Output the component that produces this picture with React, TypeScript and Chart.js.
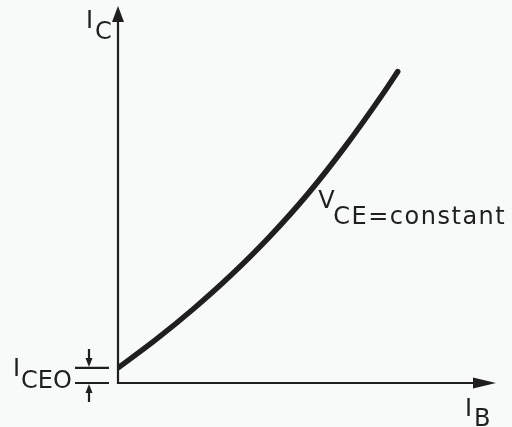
import React, { useEffect, useRef } from "react";
import { Chart, registerables } from "chart.js";

Chart.register(...registerables);

// Transfer characteristic I_C = f(I_B) at constant V_CE (arbitrary units)
const baseCurrent: number[] = [0, 1, 2, 3, 4, 5, 6, 7, 7.4];
const collectorCurrent: number[] = [0.4, 1.15, 1.97, 2.87, 3.87, 4.99, 6.26, 7.66, 8.26];
// Leakage current with open base: where the curve meets the I_C axis
const ICEO = 0.4;
const axisMax = 10;

const INK = "#1f1f1f";
const PAPER = "#f8f9f9";
const FONT = '24px "DejaVu Sans", sans-serif';

function arrowHead(
  ctx: CanvasRenderingContext2D,
  tipX: number,
  tipY: number,
  dirX: number,
  dirY: number,
  length: number,
  halfWidth: number
) {
  const bx = tipX - dirX * length;
  const by = tipY - dirY * length;
  const px = -dirY;
  const py = dirX;
  ctx.beginPath();
  ctx.moveTo(tipX, tipY);
  ctx.lineTo(bx + px * halfWidth, by + py * halfWidth);
  ctx.lineTo(bx - px * halfWidth, by - py * halfWidth);
  ctx.closePath();
  ctx.fill();
}

function subscripted(
  ctx: CanvasRenderingContext2D,
  main: string,
  sub: string,
  x: number,
  y: number,
  dx: number,
  dy: number
) {
  ctx.fillText(main, x, y);
  ctx.fillText(sub, x + dx, y + dy);
}

const axesPlugin = {
  id: "transferAxes",
  beforeDatasetsDraw(chart: Chart) {
    const { ctx, chartArea } = chart;
    const { left, right, top, bottom } = chartArea;
    const yScale = chart.scales.y;
    ctx.save();
    ctx.strokeStyle = INK;
    ctx.fillStyle = INK;
    ctx.lineWidth = 2.2;
    ctx.lineCap = "butt";

    // I_C axis
    ctx.beginPath();
    ctx.moveTo(left, bottom + 1);
    ctx.lineTo(left, top + 10);
    ctx.stroke();
    arrowHead(ctx, left, top, 0, -1, 16, 6);

    // I_B axis
    ctx.beginPath();
    ctx.moveTo(left - 1, bottom);
    ctx.lineTo(right - 10, bottom);
    ctx.stroke();
    arrowHead(ctx, right, bottom, 1, 0, 23, 5.5);

    // I_CEO dimension marks
    const yCeo = yScale.getPixelForValue(ICEO);
    const yZero = yScale.getPixelForValue(0);
    const x0 = left - 43;
    const x1 = left - 9;
    const xm = left - 29;
    ctx.beginPath();
    ctx.moveTo(x0, yCeo);
    ctx.lineTo(x1, yCeo);
    ctx.moveTo(x0, yZero);
    ctx.lineTo(x1, yZero);
    ctx.moveTo(xm, yCeo - 19);
    ctx.lineTo(xm, yCeo - 6);
    ctx.moveTo(xm, yZero + 6);
    ctx.lineTo(xm, yZero + 19);
    ctx.stroke();
    arrowHead(ctx, xm, yCeo - 1, 0, 1, 9, 3.5);
    arrowHead(ctx, xm, yZero + 1, 0, -1, 9, 3.5);

    // Axis labels
    ctx.font = FONT;
    ctx.textBaseline = "alphabetic";
    ctx.textAlign = "left";
    subscripted(ctx, "I", "C", left - 32, top + 22, 9, 11);
    subscripted(ctx, "I", "B", right - 31, bottom + 33, 9, 10);
    subscripted(ctx, "I", "CEO", left - 105, yCeo + 8, 8, 12);
    ctx.restore();
  },
  afterDatasetsDraw(chart: Chart) {
    const { ctx } = chart;
    const xs = chart.scales.x;
    const ys = chart.scales.y;
    ctx.save();
    ctx.fillStyle = INK;
    ctx.font = FONT;
    ctx.textBaseline = "alphabetic";
    ctx.textAlign = "left";
    (ctx as any).letterSpacing = "1.5px";
    const x = xs.getPixelForValue(5.3);
    const y = ys.getPixelForValue(4.65);
    subscripted(ctx, "V", "CE=constant", x, y, 15, 16);
    ctx.restore();
  },
};

export default function App() {
  const canvasRef = useRef<HTMLCanvasElement | null>(null);

  useEffect(() => {
    const canvas = canvasRef.current;
    if (!canvas) return;
    const chart = new Chart(canvas, {
      type: "line",
      data: {
        datasets: [
          {
            label: "VCE = constant",
            data: baseCurrent.map((b, i) => ({ x: b, y: collectorCurrent[i] })),
            borderColor: INK,
            borderWidth: 5.5,
            borderCapStyle: "round",
            borderJoinStyle: "round",
            pointRadius: 0,
            cubicInterpolationMode: "monotone",
            fill: false,
          },
        ],
      },
      options: {
        responsive: false,
        animation: false,
        layout: { padding: { left: 118, right: 16, top: 6, bottom: 44 } },
        plugins: {
          legend: { display: false },
          title: { display: false },
          tooltip: { enabled: false },
        },
        scales: {
          x: { type: "linear", min: 0, max: axisMax, display: false },
          y: { type: "linear", min: 0, max: axisMax, display: false },
        },
        events: [],
      },
      plugins: [axesPlugin],
    });
    return () => chart.destroy();
  }, []);

  return (
    <div
      style={{
        position: "fixed",
        left: 0,
        top: 0,
        width: 512,
        height: 427,
        background: PAPER,
      }}
    >
      <canvas ref={canvasRef} width={512} height={427} style={{ display: "block" }} />
    </div>
  );
}
